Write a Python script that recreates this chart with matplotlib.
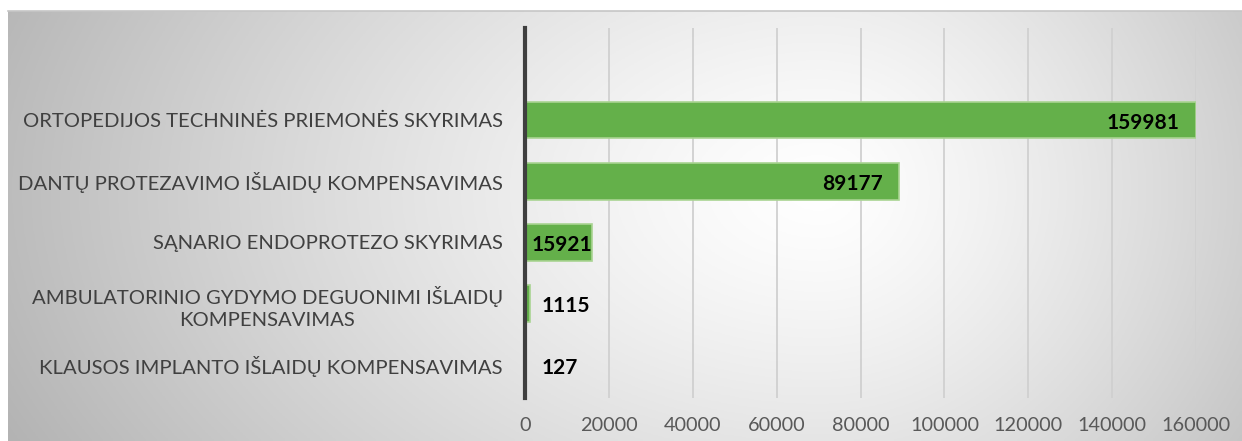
import numpy as np
import matplotlib
matplotlib.use("Agg")
import matplotlib.pyplot as plt

categories = [
    "ORTOPEDIJOS TECHNINĖS PRIEMONĖS SKYRIMAS",
    "DANTŲ PROTEZAVIMO IŠLAIDŲ KOMPENSAVIMAS",
    "SĄNARIO ENDOPROTEZO SKYRIMAS",
    "AMBULATORINIO GYDYMO DEGUONIMI IŠLAIDŲ\nKOMPENSAVIMAS",
    "KLAUSOS IMPLANTO IŠLAIDŲ KOMPENSAVIMAS",
]
values = [159981, 89177, 15921, 1115, 127]
xticks = [0, 20000, 40000, 60000, 80000, 100000, 120000, 140000, 160000]

W, H = 1242, 441
plt.rcParams['font.family'] = ['Lato', 'DejaVu Sans']
fig = plt.figure(figsize=(W / 100, H / 100), dpi=100)
fig.patch.set_facecolor('white')

# background gradient panel
x0, ytop = 8, 11
bg = fig.add_axes([x0 / W, 0, 1 - x0 / W, (H - ytop) / H], zorder=0)
nx, ny = 400, 150
xs = np.linspace(x0, W, nx)
ys = np.linspace(ytop, H, ny)
X, Y = np.meshgrid(xs, ys)
cx, cy = 820, 190
rx = np.where(X < cx, 812.0, 560.0)
ry = 520.0
t = np.sqrt(((X - cx) / rx) ** 2 + ((Y - cy) / ry) ** 2)
g = 1 - 0.26 * np.clip(t, 0, 1.3) ** 1.3
img = np.dstack([g, g, g])
bg.imshow(img, extent=[0, 1, 0, 1], aspect='auto', origin='upper')
bg.set_xlim(0, 1)
bg.set_ylim(0, 1)
bg.axis('off')
fig.add_artist(plt.Line2D([x0 / W, 1], [(H - ytop) / H] * 2, color='#c6c6c6', lw=1.2,
                          transform=fig.transFigure, zorder=1))

ax = fig.add_axes([525 / W, (H - 398) / H, 671 / W, 370 / H], zorder=2)
ax.patch.set_alpha(0)
pos = np.arange(len(categories))
ax.barh(pos, values, height=0.6, color='#64b04a', edgecolor='#a9d492', linewidth=1.2, zorder=3)
ax.set_xlim(0, 160000)
ax.set_ylim(4.54, -1.50)
ax.set_xticks(xticks)
ax.set_xticklabels([str(v) for v in xticks], fontsize=14.3, color='#595959')
ax.set_yticks(pos)
ax.set_yticklabels(categories, fontsize=14.6, color='#404040', multialignment='center',
                   linespacing=1.35)
ax.tick_params(axis='both', length=0)
ax.tick_params(axis='y', pad=16)
ax.tick_params(axis='x', pad=14)
ax.grid(axis='x', color='#d0d0d0', lw=1.3, zorder=1)
ax.set_axisbelow(True)
for s in ['top', 'right', 'bottom']:
    ax.spines[s].set_visible(False)
ax.spines['left'].set_color('#3f3f3f')
ax.spines['left'].set_linewidth(3)
ax.spines['left'].set_zorder(5)

# data labels
offs = [(-16, 'right'), (-16, 'right'), (0, 'right'), (12, 'left'), (16, 'left')]
for p, v, (dx, ha) in zip(pos, values, offs):
    ax.annotate(str(v), (v, p), xytext=(dx * 0.72, -2), textcoords='offset points',
                ha=ha, va='center', fontsize=15, fontweight='bold', color='black', zorder=6)

fig.savefig('out.png', dpi=100)
